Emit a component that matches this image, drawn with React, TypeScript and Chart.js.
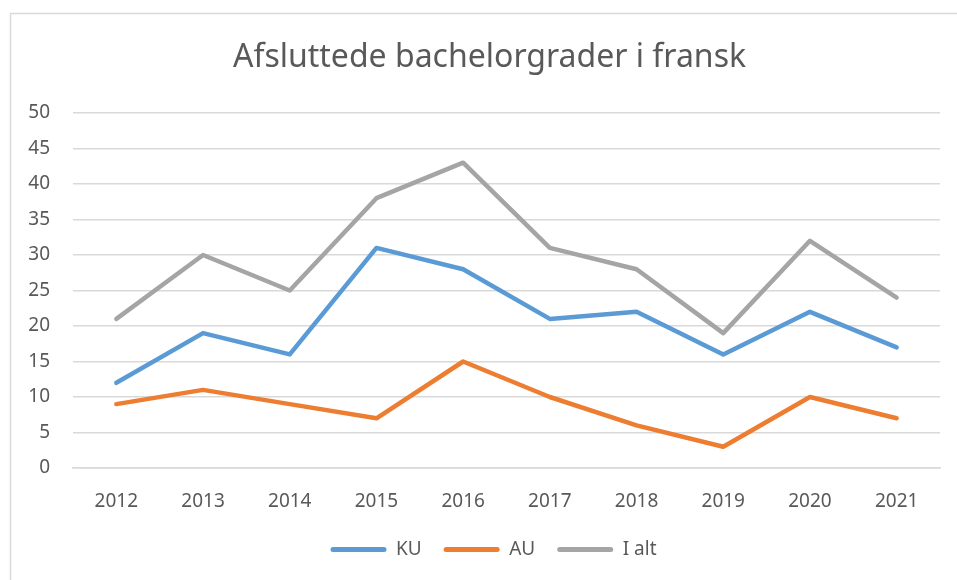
import React, { useEffect, useRef } from "react";
import { Chart, registerables } from "chart.js";

Chart.register(...registerables);

const years = ["2012", "2013", "2014", "2015", "2016", "2017", "2018", "2019", "2020", "2021"];
const ku = [12, 19, 16, 31, 28, 21, 22, 16, 22, 17];
const au = [9, 11, 9, 7, 15, 10, 6, 3, 10, 7];
const total = [21, 30, 25, 38, 43, 31, 28, 19, 32, 24];
const titleText = "Afsluttede bachelorgrader i fransk";

const FONT = "'Noto Sans', sans-serif";
const TEXT = "#595959";
const GRID = "#d9d9d9";

const borderPlugin = {
  id: "outerBorder",
  afterLayout(chart: any) {
    const lg = chart.legend;
    if (lg) {
      lg.left += 19;
      lg.right += 19;
    }
    const tb = chart.titleBlock;
    if (tb) {
      tb.left += 15;
      tb.right += 15;
    }
  },
  beforeDraw(chart: any) {
    const ctx = chart.ctx;
    ctx.save();
    ctx.strokeStyle = GRID;
    ctx.lineWidth = 1.5;
    ctx.beginPath();
    ctx.moveTo(10.5, 580);
    ctx.lineTo(10.5, 13.5);
    ctx.lineTo(957, 13.5);
    ctx.stroke();
    ctx.restore();
  },
};

export default function App() {
  const ref = useRef<HTMLCanvasElement>(null);
  useEffect(() => {
    if (!ref.current) return;
    const chart = new Chart(ref.current, {
      type: "line",
      data: {
        labels: years,
        datasets: [
          { label: "KU", data: ku, borderColor: "#5b9bd5", backgroundColor: "#5b9bd5" },
          { label: "AU", data: au, borderColor: "#ed7d31", backgroundColor: "#ed7d31" },
          { label: "I alt", data: total, borderColor: "#a5a5a5", backgroundColor: "#a5a5a5" },
        ].map((d) => ({
          ...d,
          borderWidth: 4.5,
          pointRadius: 0,
          tension: 0,
          borderJoinStyle: "round" as const,
          borderCapStyle: "round" as const,
        })),
      },
      options: {
        responsive: false,
        animation: false,
        layout: { padding: { left: 9, right: 17, top: 0, bottom: 11 } },
        plugins: {
          title: {
            display: true,
            text: titleText,
            color: TEXT,
            font: { family: FONT, size: 32, weight: "normal" },
            padding: { top: 39, bottom: 35.6 },
          },
          legend: {
            position: "bottom",
            labels: {
              color: TEXT,
              font: { family: FONT, size: 19 },
              boxWidth: 56,
              boxHeight: 5,
              padding: 22,
              useBorderRadius: true,
              borderRadius: 2.5,
              generateLabels: (chart: any) =>
                chart.data.datasets.map((ds: any, i: number) => ({
                  text: ds.label,
                  fillStyle: ds.borderColor,
                  strokeStyle: ds.borderColor,
                  lineWidth: 0,
                  fontColor: TEXT,
                  datasetIndex: i,
                  borderRadius: 2.5,
                })),
            },
          },
          tooltip: { enabled: false },
        },
        scales: {
          x: {
            offset: true,
            grid: { display: false, drawTicks: false },
            border: { display: true, color: GRID, width: 1.5 },
            ticks: { color: TEXT, font: { family: FONT, size: 19 }, padding: 22, maxRotation: 0 },
            afterFit: (s: any) => {
              s.height = 50;
            },
          },
          y: {
            min: 0,
            max: 50,
            ticks: { stepSize: 5, color: TEXT, font: { family: FONT, size: 19 }, padding: 23 },
            grid: { color: GRID, lineWidth: 1.5, drawTicks: false },
            border: { display: false },
            afterFit: (s: any) => {
              s.width = 64;
            },
          },
        },
      },
      plugins: [borderPlugin],
    });
    return () => chart.destroy();
  }, []);
  return (
    <div style={{ position: "fixed", left: 0, top: 0, width: 957, height: 580, background: "#fff" }}>
      <canvas ref={ref} width={957} height={580} style={{ width: 957, height: 580, display: "block" }} />
    </div>
  );
}
